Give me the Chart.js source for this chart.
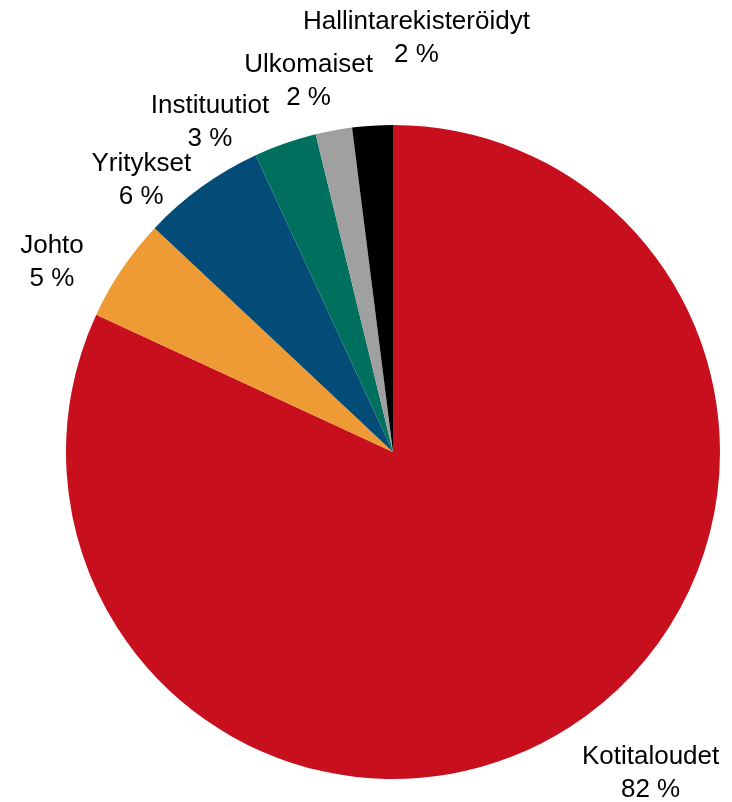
<!DOCTYPE html>
<html>
<head>
<meta charset="utf-8">
<script src="https://cdn.jsdelivr.net/npm/chart.js@4/dist/chart.umd.min.js"></script>
<style>
  html, body { margin: 0; padding: 0; background: #fff; }
  #wrap { width: 732px; height: 802px; position: relative; }
</style>
</head>
<body>
<div id="wrap"><canvas id="ownersChart"></canvas></div>
<script>
const labels = ['Kotitaloudet', 'Johto', 'Yritykset', 'Instituutiot', 'Ulkomaiset', 'Hallintarekisteröidyt'];
const shares = [81.9, 5.1, 6.1, 3.1, 1.8, 2.0];
const colors = ['#C70F1D', '#EE9B35', '#034C78', '#00705E', '#A0A0A0', '#000000'];

// label boxes sit just outside the pie, then get nudged like Excel does
const outsideLabels = {
  id: 'outsideLabels',
  afterDatasetsDraw(chart, args, opts) {
    const ctx = chart.ctx;
    const meta = chart.getDatasetMeta(0);
    ctx.save();
    ctx.font = '26px "Liberation Sans", Arial, sans-serif';
    ctx.fillStyle = '#000';
    ctx.textAlign = 'center';
    ctx.textBaseline = 'alphabetic';
    meta.data.forEach((arc, i) => {
      const mid = (arc.startAngle + arc.endAngle) / 2;
      const ux = Math.cos(mid), uy = Math.sin(mid);
      const line1 = labels[i];
      const line2 = Math.round(shares[i]) + ' %';
      const w = Math.max(ctx.measureText(line1).width, ctx.measureText(line2).width);
      const h = 56;
      const d = arc.outerRadius + 14;
      const nudge = opts.nudges[i] || [0, 0];
      const cx = arc.x + ux * d + ux * w / 2 + nudge[0];
      const cy = arc.y + uy * d + uy * h / 2 + nudge[1];
      ctx.fillText(line1, cx, cy - 7.5);
      ctx.fillText(line2, cx, cy + 25.5);
    });
    ctx.restore();
  }
};

new Chart(document.getElementById('ownersChart'), {
  type: 'pie',
  data: {
    labels,
    datasets: [{
      data: shares,
      backgroundColor: colors,
      borderWidth: 0,
      hoverOffset: 0,
    }],
  },
  options: {
    responsive: true,
    maintainAspectRatio: false,
    animation: false,
    layout: { padding: { top: 125, bottom: 23, left: 66, right: 12 } },
    plugins: {
      legend: { display: false },
      tooltip: { enabled: false },
      outsideLabels: {
        nudges: [[37, 9], [-32, 15], [-23, 26], [-51, 17], [-11, -10], [52, -47]],
      },
    },
  },
  plugins: [outsideLabels],
});
</script>
</body>
</html>
